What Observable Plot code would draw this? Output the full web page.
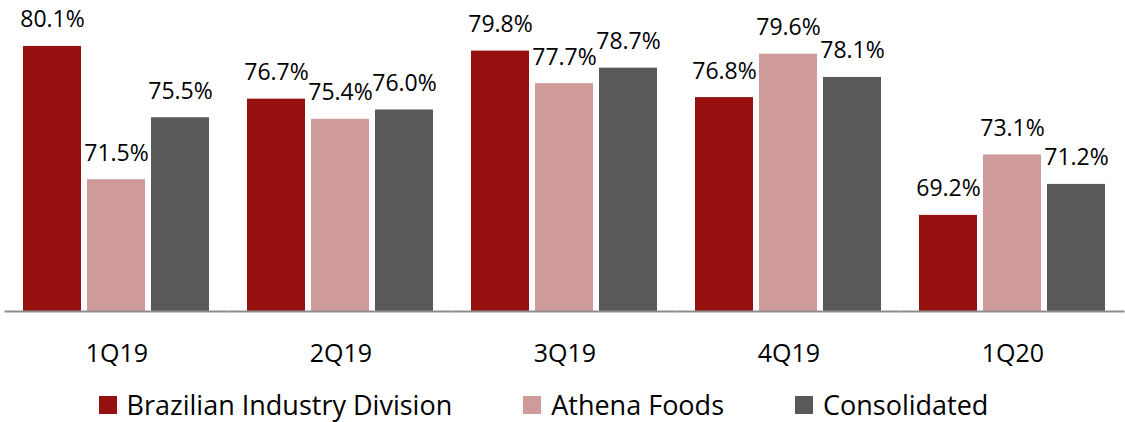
<!DOCTYPE html>
<html>
<head>
<meta charset="utf-8">
<script src="https://cdn.jsdelivr.net/npm/d3@7"></script>
<script src="https://cdn.jsdelivr.net/npm/@observablehq/plot@0.6"></script>
<style>
  html, body { margin: 0; padding: 0; background: #fff; }
  #wrap { width: 1125px; font-family: "Open Sans", sans-serif; }
  #legend { height: 52px; display: flex; justify-content: center; align-items: center; gap: 71px; font-size: 27px; color: #000; padding-right: 38px; padding-top: 17px; box-sizing: border-box; width: 1125px; }
  #legend .item { display: flex; align-items: center; gap: 10px; }
  #legend .sw { width: 18px; height: 18px; display: inline-block; }
</style>
</head>
<body>
<div id="wrap"></div>
<script>
const quarters = ["1Q19", "2Q19", "3Q19", "4Q19", "1Q20"];
const series = ["Brazilian Industry Division", "Athena Foods", "Consolidated"];
const brazilian = [80.1, 76.7, 79.8, 76.8, 69.2];
const athena = [71.5, 75.4, 77.7, 79.6, 73.1];
const consolidated = [75.5, 76.0, 78.7, 78.1, 71.2];
const colors = ["#961010", "#cf9a9a", "#595959"];
const yDomain = [63, 81];

const valuesBySeries = [brazilian, athena, consolidated];
const data = [];
quarters.forEach((q, i) => {
  series.forEach((s, j) => {
    data.push({quarter: q, series: s, value: valuesBySeries[j][i]});
  });
});

const chart = Plot.plot({
  width: 1125,
  height: 370,
  marginTop: 32,
  marginBottom: 59,
  marginLeft: 5,
  marginRight: 0,
  style: {fontFamily: "Open Sans, sans-serif", background: "#fff"},
  fx: {domain: quarters, paddingInner: 0.156, paddingOuter: 0.078, label: null},
  x: {domain: series, paddingInner: 0.092, paddingOuter: 0, axis: null},
  y: {domain: yDomain, axis: null},
  color: {domain: series, range: colors},
  marks: [
    Plot.barY(data, {fx: "quarter", x: "series", y1: yDomain[0], y2: "value", fill: "series"}),
    Plot.ruleY([yDomain[0]], {stroke: "#8c8c8c", strokeWidth: 2, insetLeft: -17.5, insetRight: -17.5}),
    Plot.text(data, {fx: "quarter", x: "series", y: "value", text: d => d.value.toFixed(1) + "%", lineAnchor: "bottom", dy: -19, fontSize: 23, fill: "#000"}),
    Plot.axisFx({anchor: "bottom", tickSize: 0, tickPadding: 33, fontSize: 25, label: null, color: "#000"})
  ]
});

const wrap = document.getElementById("wrap");
wrap.appendChild(chart);

const legend = document.createElement("div");
legend.id = "legend";
series.forEach((s, j) => {
  const item = document.createElement("div");
  item.className = "item";
  const sw = document.createElement("span");
  sw.className = "sw";
  sw.style.background = colors[j];
  const label = document.createElement("span");
  label.textContent = s;
  item.appendChild(sw);
  item.appendChild(label);
  legend.appendChild(item);
});
wrap.appendChild(legend);
</script>
</body>
</html>
